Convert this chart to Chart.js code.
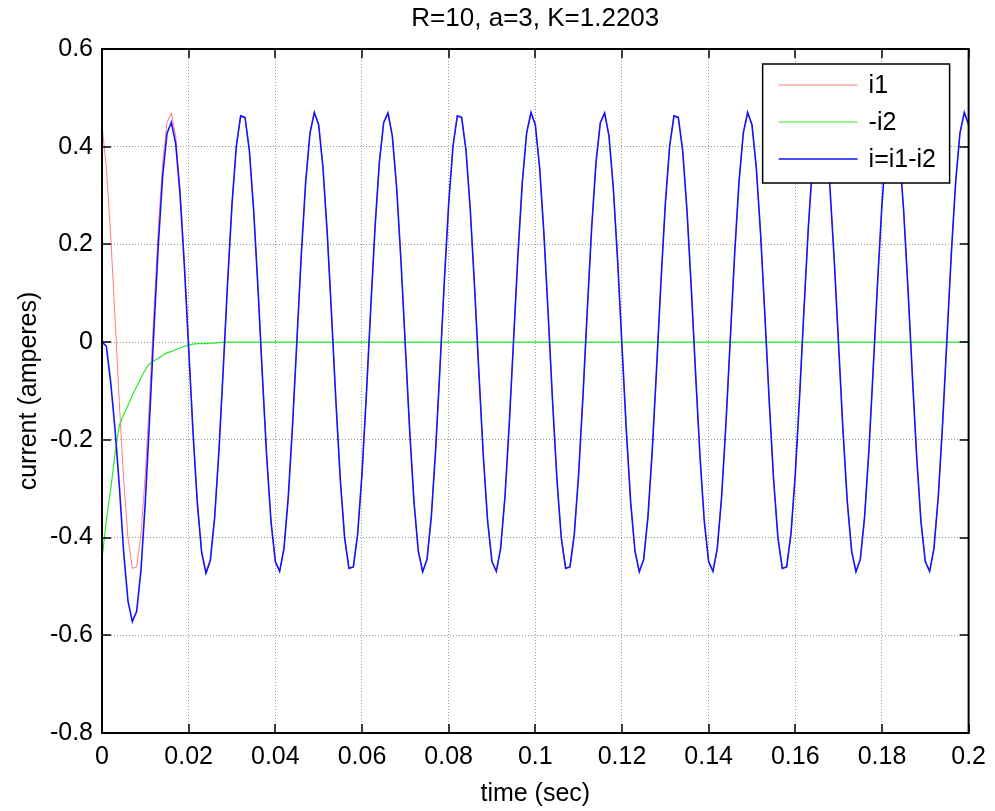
<!DOCTYPE html>
<html>
<head>
<meta charset="utf-8">
<script src="https://cdn.jsdelivr.net/npm/chart.js@4.4.1/dist/chart.umd.min.js"></script>
<style>
  html, body { margin: 0; padding: 0; background: #ffffff; }
  #wrap { width: 995px; height: 811px; }
</style>
</head>
<body>
<div id="wrap"><canvas id="c" width="995" height="811"></canvas></div>
<script>
// Simulation output, sampled every 1 ms from 0 to 0.2 s
const T_STEP = 0.001;
const SAMPLE_COUNT = 201;

// i1: source-side current (A)
const i1 = [
  0.445, 0.357, 0.220, 0.052, -0.124, -0.282, -0.401, -0.463, -0.460, -0.393,
  -0.270, -0.110, 0.066, 0.233, 0.367, 0.449, 0.469, 0.422, 0.316, 0.166,
  -0.007, -0.180, -0.327, -0.428, -0.470, -0.445, -0.357, -0.220, -0.052, 0.124,
  0.282, 0.401, 0.463, 0.460, 0.393, 0.270, 0.110, -0.066, -0.233, -0.367,
  -0.449, -0.469, -0.422, -0.316, -0.166, 0.007, 0.180, 0.327, 0.428, 0.470,
  0.445, 0.357, 0.220, 0.052, -0.124, -0.282, -0.401, -0.463, -0.460, -0.393,
  -0.270, -0.110, 0.066, 0.233, 0.367, 0.449, 0.469, 0.422, 0.316, 0.166,
  -0.007, -0.180, -0.327, -0.428, -0.470, -0.445, -0.357, -0.220, -0.052, 0.124,
  0.282, 0.401, 0.463, 0.460, 0.393, 0.270, 0.110, -0.066, -0.233, -0.367,
  -0.449, -0.469, -0.422, -0.316, -0.166, 0.007, 0.180, 0.327, 0.428, 0.470,
  0.445, 0.357, 0.220, 0.052, -0.124, -0.282, -0.401, -0.463, -0.460, -0.393,
  -0.270, -0.110, 0.066, 0.233, 0.367, 0.449, 0.469, 0.422, 0.316, 0.166,
  -0.007, -0.180, -0.327, -0.428, -0.470, -0.445, -0.357, -0.220, -0.052, 0.124,
  0.282, 0.401, 0.463, 0.460, 0.393, 0.270, 0.110, -0.066, -0.233, -0.367,
  -0.449, -0.469, -0.422, -0.316, -0.166, 0.007, 0.180, 0.327, 0.428, 0.470,
  0.445, 0.357, 0.220, 0.052, -0.124, -0.282, -0.401, -0.463, -0.460, -0.393,
  -0.270, -0.110, 0.066, 0.233, 0.367, 0.449, 0.469, 0.422, 0.316, 0.166,
  -0.007, -0.180, -0.327, -0.428, -0.470, -0.445, -0.357, -0.220, -0.052, 0.124,
  0.282, 0.401, 0.463, 0.460, 0.393, 0.270, 0.110, -0.066, -0.233, -0.367,
  -0.449, -0.469, -0.422, -0.316, -0.166, 0.007, 0.180, 0.327, 0.428, 0.470,
  0.445
];

// -i2: decaying branch current (A)
const negI2 = [
  -0.445, -0.365, -0.302, -0.229, -0.170, -0.148, -0.129, -0.109, -0.091, -0.073,
  -0.056, -0.044, -0.038, -0.033, -0.027, -0.022, -0.019, -0.015, -0.012, -0.009,
  -0.006, -0.004, -0.003, -0.003, -0.003, -0.002, -0.002, -0.001, 0, 0,
  0, 0, 0, 0, 0, 0, 0, 0, 0, 0,
  0, 0, 0, 0, 0, 0, 0, 0, 0, 0,
  0, 0, 0, 0, 0, 0, 0, 0, 0, 0,
  0, 0, 0, 0, 0, 0, 0, 0, 0, 0,
  0, 0, 0, 0, 0, 0, 0, 0, 0, 0,
  0, 0, 0, 0, 0, 0, 0, 0, 0, 0,
  0, 0, 0, 0, 0, 0, 0, 0, 0, 0,
  0, 0, 0, 0, 0, 0, 0, 0, 0, 0,
  0, 0, 0, 0, 0, 0, 0, 0, 0, 0,
  0, 0, 0, 0, 0, 0, 0, 0, 0, 0,
  0, 0, 0, 0, 0, 0, 0, 0, 0, 0,
  0, 0, 0, 0, 0, 0, 0, 0, 0, 0,
  0, 0, 0, 0, 0, 0, 0, 0, 0, 0,
  0, 0, 0, 0, 0, 0, 0, 0, 0, 0,
  0, 0, 0, 0, 0, 0, 0, 0, 0, 0,
  0, 0, 0, 0, 0, 0, 0, 0, 0, 0,
  0, 0, 0, 0, 0, 0, 0, 0, 0, 0,
  0
];

// i = i1 - i2: total current (A)
const iTotal = [
  0.000, -0.008, -0.082, -0.177, -0.294, -0.430, -0.530, -0.572, -0.551, -0.466,
  -0.326, -0.154, 0.028, 0.200, 0.340, 0.427, 0.450, 0.407, 0.304, 0.157,
  -0.013, -0.184, -0.330, -0.431, -0.473, -0.447, -0.359, -0.221, -0.052, 0.124,
  0.282, 0.401, 0.463, 0.460, 0.393, 0.270, 0.110, -0.066, -0.233, -0.367,
  -0.449, -0.469, -0.422, -0.316, -0.166, 0.007, 0.180, 0.327, 0.428, 0.470,
  0.445, 0.357, 0.220, 0.052, -0.124, -0.282, -0.401, -0.463, -0.460, -0.393,
  -0.270, -0.110, 0.066, 0.233, 0.367, 0.449, 0.469, 0.422, 0.316, 0.166,
  -0.007, -0.180, -0.327, -0.428, -0.470, -0.445, -0.357, -0.220, -0.052, 0.124,
  0.282, 0.401, 0.463, 0.460, 0.393, 0.270, 0.110, -0.066, -0.233, -0.367,
  -0.449, -0.469, -0.422, -0.316, -0.166, 0.007, 0.180, 0.327, 0.428, 0.470,
  0.445, 0.357, 0.220, 0.052, -0.124, -0.282, -0.401, -0.463, -0.460, -0.393,
  -0.270, -0.110, 0.066, 0.233, 0.367, 0.449, 0.469, 0.422, 0.316, 0.166,
  -0.007, -0.180, -0.327, -0.428, -0.470, -0.445, -0.357, -0.220, -0.052, 0.124,
  0.282, 0.401, 0.463, 0.460, 0.393, 0.270, 0.110, -0.066, -0.233, -0.367,
  -0.449, -0.469, -0.422, -0.316, -0.166, 0.007, 0.180, 0.327, 0.428, 0.470,
  0.445, 0.357, 0.220, 0.052, -0.124, -0.282, -0.401, -0.463, -0.460, -0.393,
  -0.270, -0.110, 0.066, 0.233, 0.367, 0.449, 0.469, 0.422, 0.316, 0.166,
  -0.007, -0.180, -0.327, -0.428, -0.470, -0.445, -0.357, -0.220, -0.052, 0.124,
  0.282, 0.401, 0.463, 0.460, 0.393, 0.270, 0.110, -0.066, -0.233, -0.367,
  -0.449, -0.469, -0.422, -0.316, -0.166, 0.007, 0.180, 0.327, 0.428, 0.470,
  0.445
];

const seriesLabels = ['i1', '-i2', 'i=i1-i2'];
const titleText = 'R=10, a=3, K=1.2203';
const xTitle = 'time (sec)';
const yTitle = 'current (amperes)';

// axis ranges and tick steps
const X_MIN = 0, X_MAX = 0.2, X_STEP = 0.02;
const Y_MIN = -0.8, Y_MAX = 0.6, Y_STEP = 0.2;

const sampleTimes = Array.from({ length: SAMPLE_COUNT }, (_, k) => +(k * T_STEP).toFixed(3));
const toPoints = (vals) => vals.map((v, k) => ({ x: sampleTimes[k], y: v }));

const FONT = '"Liberation Sans", Arial, Helvetica, sans-serif';
const FS = 25;
const fmt = (v) => String(Number(Number(v).toFixed(2)));

// MATLAB-style axes box, inward tick marks and boxed legend
const axesFrame = {
  id: 'axesFrame',
  afterDatasetsDraw(chart) {
    const { ctx, chartArea: a, scales: { x, y } } = chart;
    const TICK = 9;
    ctx.save();
    ctx.strokeStyle = '#000';
    ctx.lineWidth = 1.5;
    const seg = (x1, y1, x2, y2) => { ctx.beginPath(); ctx.moveTo(x1, y1); ctx.lineTo(x2, y2); ctx.stroke(); };
    x.ticks.forEach(tk => {
      const px = Math.round(x.getPixelForValue(tk.value));
      seg(px, a.bottom, px, a.bottom - TICK);
      seg(px, a.top, px, a.top + TICK);
    });
    y.ticks.forEach(tk => {
      const py = Math.round(y.getPixelForValue(tk.value));
      seg(a.left, py, a.left + TICK, py);
      seg(a.right, py, a.right - TICK, py);
    });
    ctx.lineWidth = 2;
    ctx.strokeRect(a.left, a.top, a.right - a.left, a.bottom - a.top);

    // legend box in the upper-right corner of the axes
    const bx = a.right - 206, by = a.top + 15, bw = 187, bh = 119;
    ctx.fillStyle = '#fff';
    ctx.fillRect(bx, by, bw, bh);
    ctx.lineWidth = 1.5;
    ctx.strokeRect(bx, by, bw, bh);
    ctx.font = FS + 'px ' + FONT;
    ctx.textBaseline = 'middle';
    ctx.textAlign = 'left';
    chart.data.datasets.forEach((ds, k) => {
      const ly = by + 21 + k * 37;
      ctx.strokeStyle = ds.borderColor;
      ctx.lineWidth = ds.borderWidth;
      seg(bx + 16, ly, bx + 95, ly);
      ctx.fillStyle = '#000';
      ctx.fillText(ds.label, bx + 106, ly + 1);
    });
    ctx.restore();
  }
};

new Chart(document.getElementById('c'), {
  type: 'line',
  data: {
    datasets: [
      { label: seriesLabels[0], data: toPoints(i1), borderColor: 'rgba(255,40,40,0.6)', borderWidth: 1, order: 2 },
      { label: seriesLabels[1], data: toPoints(negI2), borderColor: 'rgb(40,235,40)', borderWidth: 1.2, order: 1 },
      { label: seriesLabels[2], data: toPoints(iTotal), borderColor: '#1414ff', borderWidth: 1.6, order: 0 }
    ]
  },
  options: {
    responsive: false,
    animation: false,
    devicePixelRatio: 1,
    elements: { point: { radius: 0 }, line: { tension: 0 } },
    layout: { padding: { left: 0, right: 25, top: 0, bottom: 0 } },
    plugins: {
      legend: { display: false },
      tooltip: { enabled: false },
      title: {
        display: true, text: titleText, color: '#000', fullSize: false,
        font: { family: FONT, size: 26, weight: 'normal', lineHeight: 1.2 },
        padding: { top: 3, bottom: 14.8 }
      }
    },
    scales: {
      x: {
        type: 'linear', min: X_MIN, max: X_MAX,
        ticks: { stepSize: X_STEP, color: '#000', padding: 9, maxRotation: 0, autoSkip: false,
                 font: { family: FONT, size: FS }, callback: fmt },
        grid: { color: '#9a9a9a', lineWidth: 1, drawTicks: false },
        border: { display: false, dash: [1, 2] },
        title: { display: true, text: xTitle, color: '#000', font: { family: FONT, size: FS }, padding: { top: 0, bottom: 2 } },
        afterFit(s) { s.height = 78; }
      },
      y: {
        type: 'linear', min: Y_MIN, max: Y_MAX,
        ticks: { stepSize: Y_STEP, color: '#000', padding: 9, autoSkip: false,
                 font: { family: FONT, size: FS }, callback: fmt },
        grid: { color: '#9a9a9a', lineWidth: 1, drawTicks: false },
        border: { display: false, dash: [1, 2] },
        title: { display: true, text: yTitle, color: '#000', font: { family: FONT, size: FS }, padding: { top: 14, bottom: 0 } },
        afterFit(s) { s.width = 102; }
      }
    }
  },
  plugins: [axesFrame]
});
</script>
</body>
</html>
